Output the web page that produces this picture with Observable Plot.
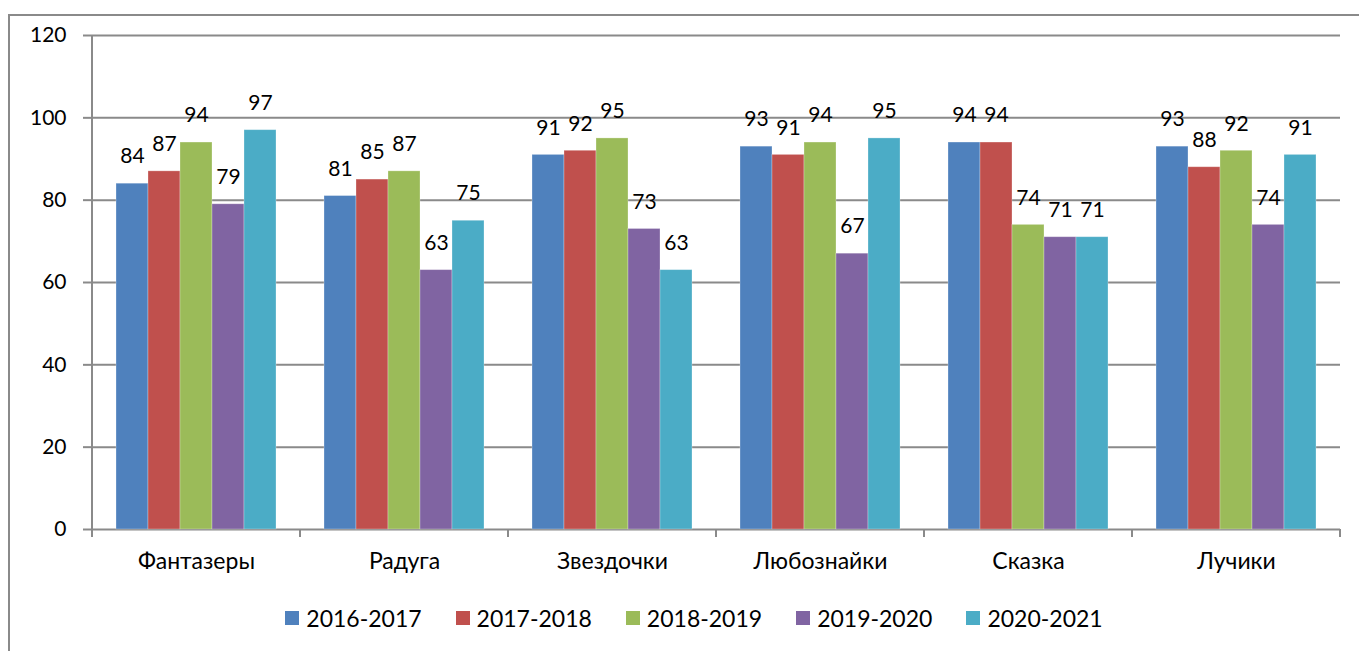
<!DOCTYPE html>
<html><head><meta charset="utf-8">
<script src="https://cdn.jsdelivr.net/npm/d3@7"></script>
<script src="https://cdn.jsdelivr.net/npm/@observablehq/plot@0.6"></script>
<style>
html,body{margin:0;padding:0;background:#fff;overflow:hidden;}
body{width:1359px;height:651px;position:relative;font-family:Lato,"Open Sans",sans-serif;}
#frame{position:absolute;left:8px;top:14px;width:1400px;height:700px;border:2px solid #8a8a8a;box-sizing:border-box;}
#chart{position:absolute;left:0;top:0;}
#legend{position:absolute;left:0;top:604px;width:1388px;height:28px;display:flex;justify-content:center;align-items:center;font-size:23px;color:#000;}
.item{display:flex;align-items:center;margin:0 17px;}
.sw{width:14px;height:14px;margin-right:7px;}
</style></head>
<body>
<div id="frame"></div>
<div id="chart"></div>
<div id="legend"></div>
<script>
const categories = ["Фантазеры", "Радуга", "Звездочки", "Любознайки", "Сказка", "Лучики"];
const years = ["2016-2017", "2017-2018", "2018-2019", "2019-2020", "2020-2021"];
const colors = ["#4F81BD", "#C0504D", "#9BBB59", "#8064A2", "#4BACC6"];
const v2016 = [84, 81, 91, 93, 94, 93];
const v2017 = [87, 85, 92, 91, 94, 88];
const v2018 = [94, 87, 95, 94, 74, 92];
const v2019 = [79, 63, 73, 67, 71, 74];
const v2020 = [97, 75, 63, 95, 71, 91];
const yTicks = [0, 20, 40, 60, 80, 100, 120];

const series = [v2016, v2017, v2018, v2019, v2020];
const data = [];
categories.forEach((c, i) => years.forEach((y, j) => data.push({cat: c, year: y, value: series[j][i]})));

const grid = "#8a8a8a";
const plot = Plot.plot({
  width: 1359, height: 600,
  marginLeft: 92, marginRight: 19, marginTop: 35, marginBottom: 71,
  style: {fontFamily: "Lato, 'Open Sans', sans-serif", fontSize: "21px", color: "#000", background: "transparent"},
  fx: {domain: categories, padding: 0, label: null},
  x: {domain: years, paddingInner: 0, paddingOuter: 0.75, axis: null},
  y: {domain: [0, 120], ticks: yTicks, label: null},
  color: {domain: years, range: colors},
  marks: [
    Plot.ruleY(yTicks, {stroke: grid, strokeWidth: 2}),
    Plot.barY(data, {fx: "cat", x: "year", y: "value", fill: "year", stroke: "#fff", strokeOpacity: 0.35, strokeWidth: 0.8}),
    Plot.text(data, {fx: "cat", x: "year", y: "value", text: d => String(d.value), dy: -27, fontSize: 21, fill: "#000"}),
    Plot.axisY({ticks: yTicks, tickSize: 9, tickPadding: 17, stroke: grid, strokeWidth: 2, fontSize: 21, label: null}),
    Plot.axisFx({anchor: "bottom", tickSize: 0, tickPadding: 23, fontSize: 23, label: null})
  ]
});
document.getElementById("chart").appendChild(plot);

// axis line and category boundary ticks derived from the plot's scales
const fx = plot.scale("fx"), ys = plot.scale("y");
const svg = d3.select(plot);
const y0 = ys.apply(0), yTop = ys.apply(120);
const left = fx.apply(categories[0]);
const g = svg.append("g").attr("stroke", grid).attr("stroke-width", 2);
g.append("line").attr("x1", left).attr("x2", left).attr("y1", yTop).attr("y2", y0 + 8);
const bounds = categories.map(c => fx.apply(c) + fx.bandwidth).concat([left]);
bounds.forEach(x => g.append("line").attr("x1", x).attr("x2", x).attr("y1", y0).attr("y2", y0 + 8));

const legend = document.getElementById("legend");
years.forEach((y, i) => {
  const it = document.createElement("div"); it.className = "item";
  const sw = document.createElement("div"); sw.className = "sw"; sw.style.background = colors[i];
  const t = document.createElement("span"); t.textContent = y;
  it.appendChild(sw); it.appendChild(t); legend.appendChild(it);
});
</script>
</body></html>
